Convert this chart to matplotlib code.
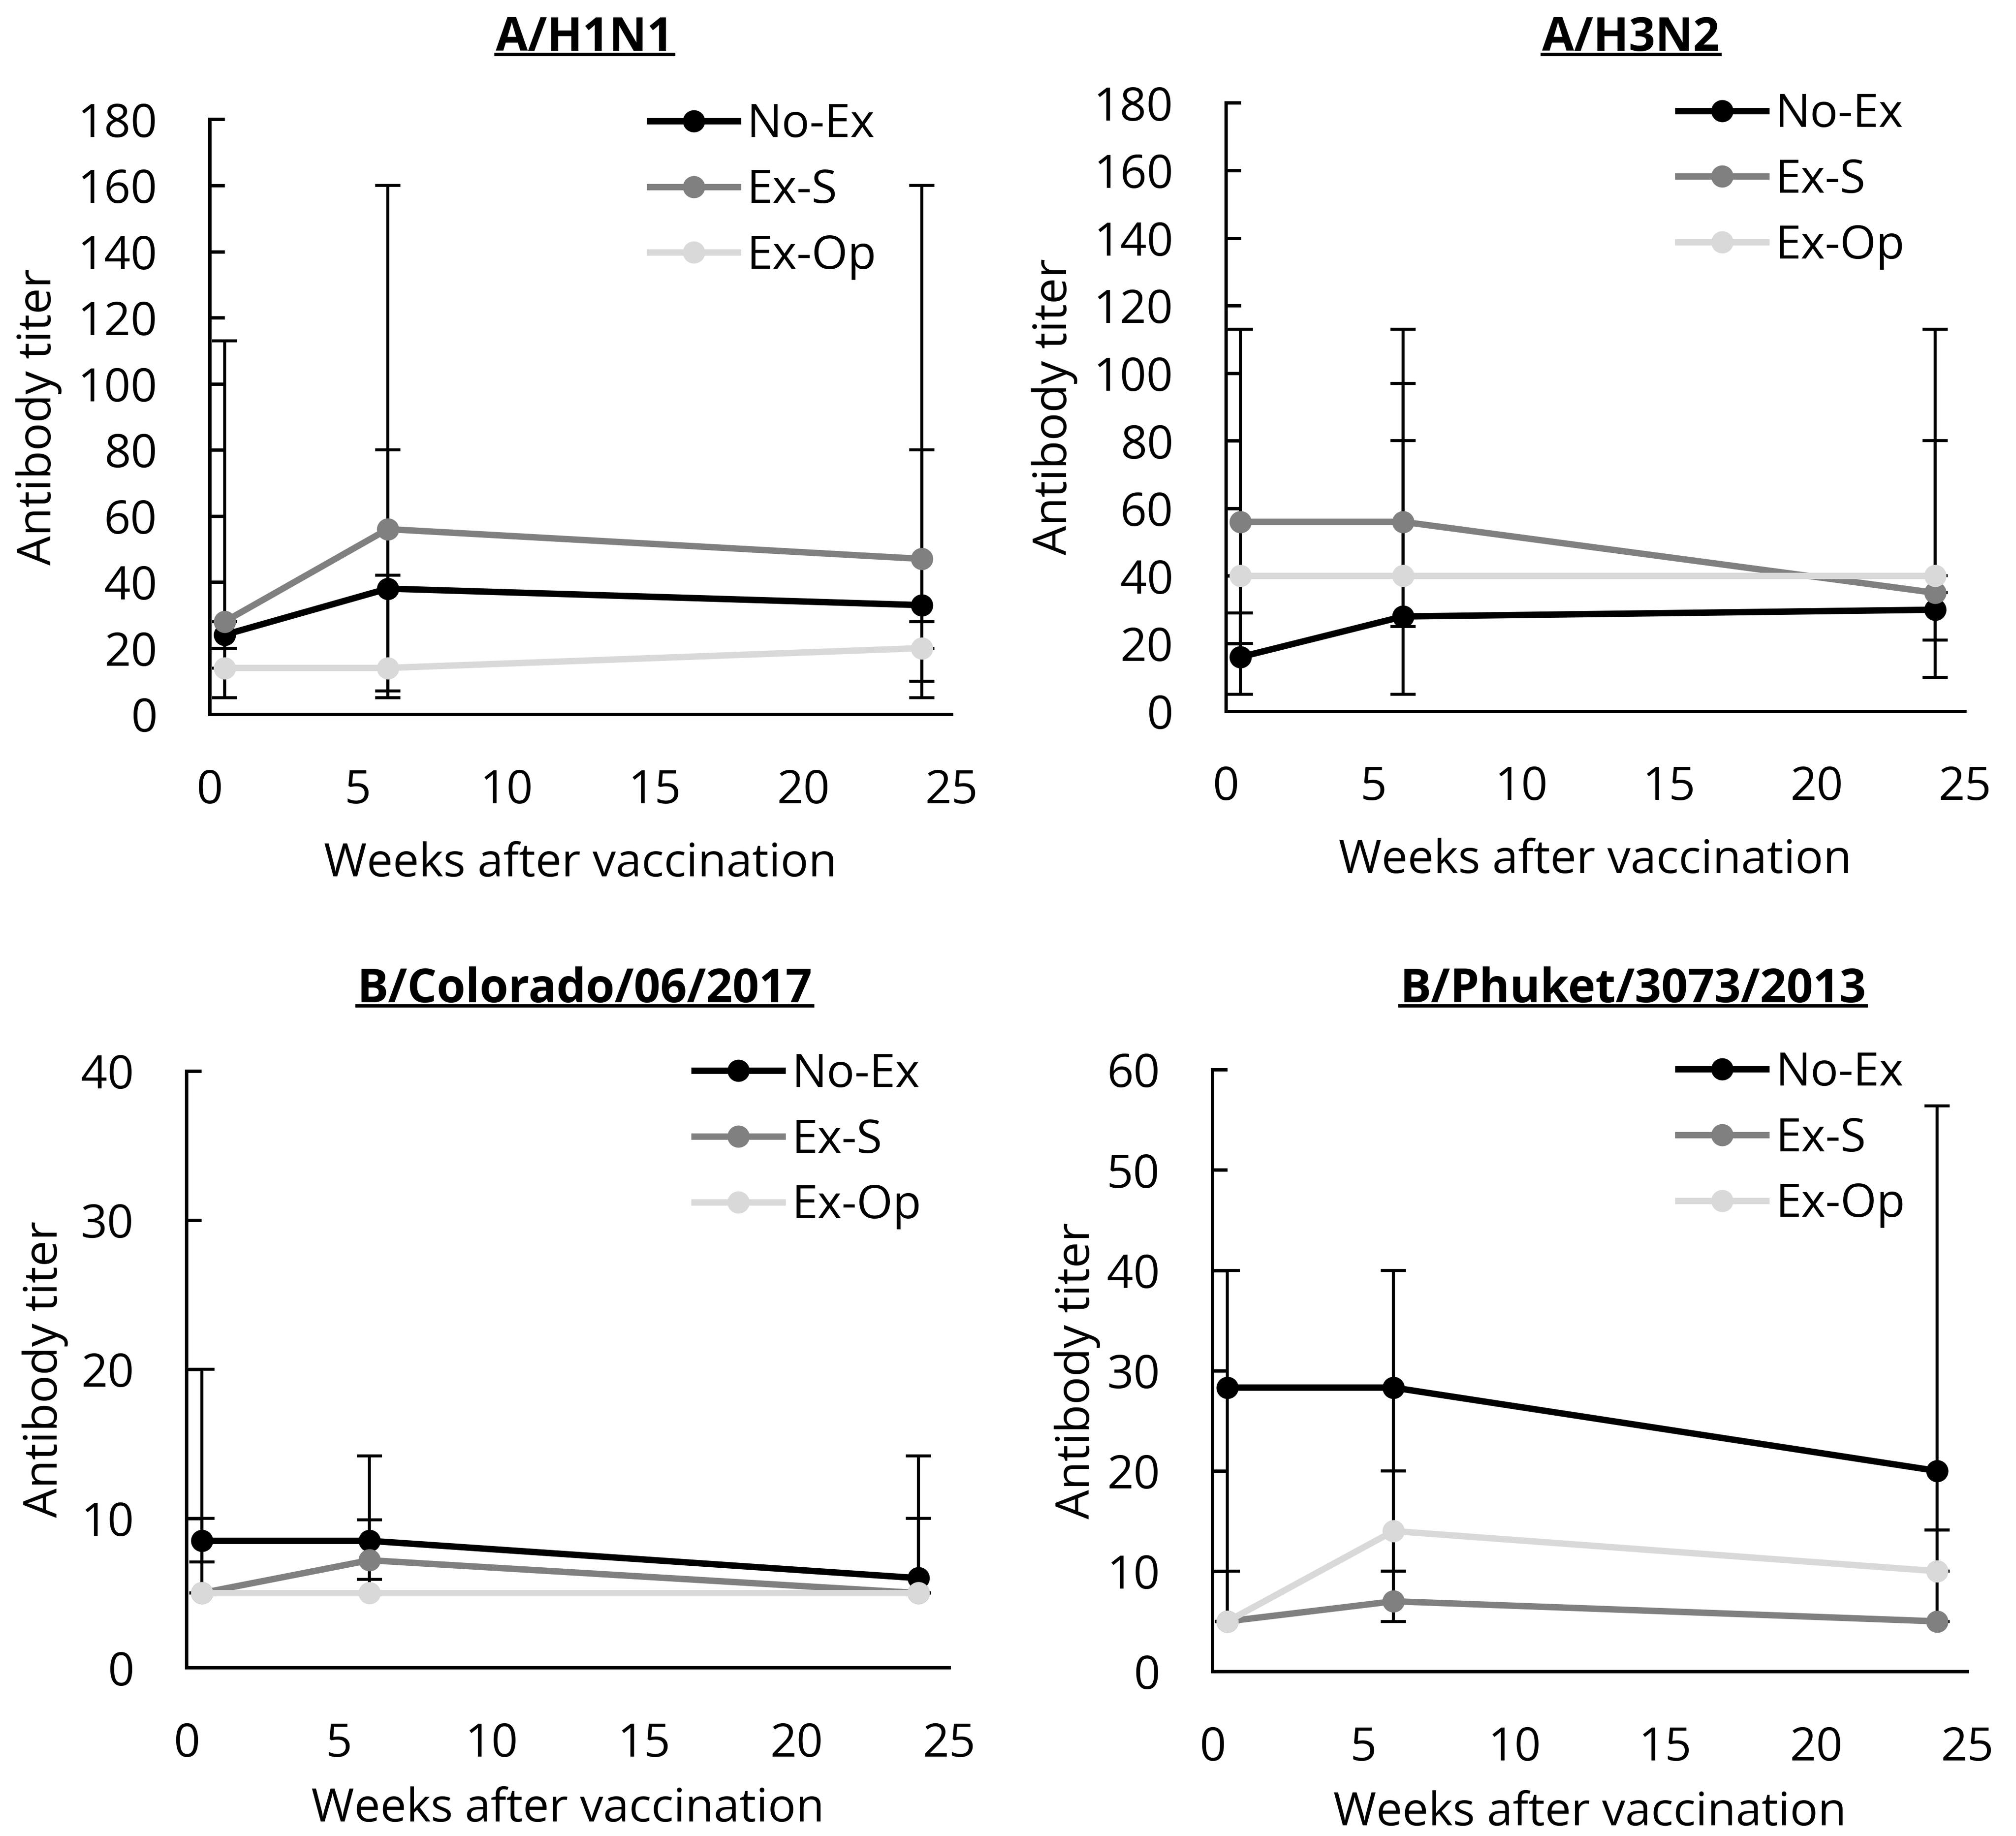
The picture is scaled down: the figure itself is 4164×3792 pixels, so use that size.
import matplotlib
matplotlib.use("Agg")
import matplotlib.pyplot as plt
from matplotlib.lines import Line2D

plt.rcParams['font.family'] = ['Open Sans', 'DejaVu Sans']

# weeks after vaccination (shared by all panels)
weeks = [0.5, 6, 24]
groups = ['No-Ex', 'Ex-S', 'Ex-Op']
colors = ['#000000', '#808080', '#d9d9d9']

# A/H1N1 : means and error bar ends (low, high)
h1_mean = [[24, 38, 33], [28, 56, 47], [14, 14, 20]]
h1_low = [[20, 7, 28], [5, 5, 5], [5, 5, 10]]
h1_high = [[113, 42, 80], [28, 160, 160], [14, 80, 20]]

# A/H3N2
h3_mean = [[16, 28, 30], [56, 56, 35], [40, 40, 40]]
h3_low = [[5, 5, 21], [20, 25, 10], [40, 40, 40]]
h3_high = [[29, 97, 35], [113, 113, 113], [40, 80, 80]]

# B/Colorado/06/2017
col_mean = [[8.5, 8.5, 6], [5, 7.2, 5], [5, 5, 5]]
col_low = [[7.1, 5.9, 5], [5, 5, 5], [5, 5, 5]]
col_high = [[20, 14.2, 14.2], [10, 9.9, 10], [5, 5, 5]]

# B/Phuket/3073/2013
phu_mean = [[28.3, 28.3, 20], [5, 7, 5], [5, 14, 10]]
phu_low = [[5, 20, 14.1], [5, 5, 5], [5, 10, 10]]
phu_high = [[40, 40, 56.4], [10, 10, 10], [5, 20, 14.1]]

panels = [
    ('A/H1N1', h1_mean, h1_low, h1_high, 180, 20),
    ('A/H3N2', h3_mean, h3_low, h3_high, 180, 20),
    ('B/Colorado/06/2017', col_mean, col_low, col_high, 40, 10),
    ('B/Phuket/3073/2013', phu_mean, phu_low, phu_high, 60, 10),
]

ax_pos = [
    [0.104, 0.611, 0.368, 0.324],
    [0.608, 0.6127, 0.3665, 0.3313],
    [0.0925, 0.0917, 0.3782, 0.325],
    [0.6014, 0.0896, 0.3744, 0.3278],
]
title_xy = [(0.290, 0.979), (0.809, 0.979), (0.290, 0.4608), (0.810, 0.4608)]
legend_xy = [(0.593, 1.029), (0.612, 1.018), (0.666, 1.032), (0.617, 1.032)]
ylab_x = [-0.199, -0.200, -0.155, -0.148]
xlab_pad = [40, 40, 28, 28]

fs = 69

fig = plt.figure(figsize=(41.64, 37.92), dpi=100)
titles = []

for i, (name, mean, low, high, ymax, ystep) in enumerate(panels):
    ax = fig.add_axes(ax_pos[i])
    for g in range(3):
        err = [[m - l for m, l in zip(mean[g], low[g])],
               [h - m for m, h in zip(mean[g], high[g])]]
        ax.errorbar(weeks, mean[g], yerr=err, fmt='none', ecolor='black',
                    elinewidth=4.5, capsize=19, capthick=4.5, zorder=2)
    for g in range(3):
        ax.plot(weeks, mean[g], color=colors[g], lw=9.5, marker='o',
                markersize=32, label=groups[g], zorder=3 + g)

    ax.set_xlim(0, 25)
    ax.set_ylim(0, ymax)
    ax.set_xticks(range(0, 26, 5))
    ax.set_yticks(range(0, ymax + 1, ystep))
    for s in ['top', 'right']:
        ax.spines[s].set_visible(False)
    for s in ['left', 'bottom']:
        ax.spines[s].set_linewidth(5)
    ax.tick_params(axis='y', direction='in', length=22, width=5,
                   pad=78, labelsize=fs)
    ax.tick_params(axis='x', length=0, pad=80, labelsize=fs)
    ax.set_xlabel('Weeks after vaccination', fontsize=fs, labelpad=xlab_pad[i])
    ax.set_ylabel('Antibody titer', fontsize=fs)
    ax.yaxis.set_label_coords(ylab_x[i], 0.5)

    ax.legend(loc='upper left', bbox_to_anchor=legend_xy[i], frameon=False,
              fontsize=fs, handlelength=1.9, handletextpad=0.2,
              labelspacing=0.42, borderpad=0, borderaxespad=0)

    t = fig.text(title_xy[i][0], title_xy[i][1], name, fontsize=fs,
                 fontweight='bold', ha='center', va='center')
    titles.append(t)

# underline the titles
fig.canvas.draw()
renderer = fig.canvas.get_renderer()
inv = fig.transFigure.inverted()
for t in titles:
    bb = t.get_window_extent(renderer)
    (x0, y0), (x1, y1) = inv.transform([(bb.x0, bb.y0 + 0.17 * bb.height),
                                        (bb.x1, bb.y0 + 0.17 * bb.height)])
    fig.add_artist(Line2D([x0, x1], [y0, y1], color='black', lw=5,
                          transform=fig.transFigure))

fig.savefig('out.png', dpi=100, facecolor='white')
